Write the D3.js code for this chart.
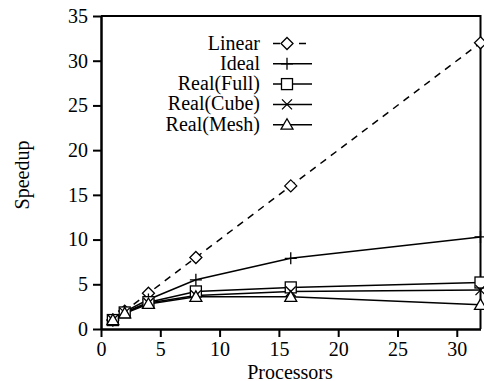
<!DOCTYPE html>
<html>
<head>
<meta charset="utf-8">
<script src="https://cdn.jsdelivr.net/npm/d3@7"></script>
<style>
  body { margin: 0; background: #fff; }
  text { font-family: "Liberation Serif", "Times New Roman", serif; fill: #000; }
</style>
</head>
<body>
<svg id="chart" width="484" height="381"></svg>
<script>
// Speedup measurements per processor count
const processors = [1, 2, 4, 8, 16, 32];
const linear    = [1, 2, 4, 8, 16, 32];
const ideal     = [1, 1.95, 3.3, 5.5, 7.9, 10.3];
const realFull  = [1, 1.85, 3.0, 4.2, 4.65, 5.2];
const realCube  = [1, 1.8, 2.9, 3.75, 4.2, 4.35];
const realMesh  = [1, 1.75, 2.8, 3.6, 3.6, 2.7];
const seriesNames = ["Linear", "Ideal", "Real(Full)", "Real(Cube)", "Real(Mesh)"];
const xTicks = [0, 5, 10, 15, 20, 25, 30];
const yTicks = [0, 5, 10, 15, 20, 25, 30, 35];

const series = [
  { name: seriesNames[0], values: linear,   symbol: "diamond",  dash: "7,6" },
  { name: seriesNames[1], values: ideal,    symbol: "plus",     dash: null },
  { name: seriesNames[2], values: realFull, symbol: "square",   dash: null },
  { name: seriesNames[3], values: realCube, symbol: "cross",    dash: null },
  { name: seriesNames[4], values: realMesh, symbol: "triangle", dash: null }
];

const svg = d3.select("#chart");
const plotLeft = 101, plotRight = 480.5, plotTop = 16, plotBottom = 329;
const fontSize = "20px";

const x = d3.scaleLinear().domain([0, 32]).range([plotLeft, plotRight]);
const y = d3.scaleLinear().domain([0, 35]).range([plotBottom, plotTop]);

// Frame (top and right)
svg.append("path")
  .attr("d", `M${plotLeft},${plotTop}H${plotRight}V${plotBottom}`)
  .attr("fill", "none").attr("stroke", "#000").attr("stroke-width", 2);

// Axes
const xAxis = svg.append("g").attr("transform", `translate(0,${plotBottom})`)
  .call(d3.axisBottom(x).tickValues(xTicks).tickSize(8).tickSizeOuter(0).tickPadding(5));
const yAxis = svg.append("g").attr("transform", `translate(${plotLeft},0)`)
  .call(d3.axisLeft(y).tickValues(yTicks).tickSize(8).tickSizeOuter(0).tickPadding(5));
[xAxis, yAxis].forEach(g => {
  g.select(".domain").attr("stroke", "#000").attr("stroke-width", 2.5);
  g.selectAll(".tick line").attr("stroke", "#000").attr("stroke-width", 2);
  g.selectAll(".tick text").style("font-size", fontSize).style("font-family", "Liberation Serif, serif");
});

// Axis titles
svg.append("text").attr("x", 290).attr("y", 378.5).attr("text-anchor", "middle")
  .style("font-size", fontSize).text("Processors");
svg.append("text").attr("transform", "translate(29,175) rotate(-90)")
  .attr("text-anchor", "middle").style("font-size", fontSize).text("Speedup");

// Marker drawing
function drawMarker(g, symbol, cx, cy) {
  const s = 6;
  const common = el => el.attr("fill", "#fff").attr("stroke", "#000").attr("stroke-width", 1.3);
  if (symbol === "diamond") {
    common(g.append("path").attr("d", `M${cx},${cy - s}L${cx + s},${cy}L${cx},${cy + s}L${cx - s},${cy}Z`));
  } else if (symbol === "square") {
    common(g.append("rect").attr("x", cx - 5.5).attr("y", cy - 5.5).attr("width", 11).attr("height", 11));
  } else if (symbol === "triangle") {
    common(g.append("path").attr("d", `M${cx},${cy - 6}L${cx + 6},${cy + 4.5}L${cx - 6},${cy + 4.5}Z`));
  } else if (symbol === "plus") {
    g.append("path").attr("d", `M${cx - 6},${cy}H${cx + 6}M${cx},${cy - 6}V${cy + 6}`)
      .attr("stroke", "#000").attr("stroke-width", 1.3).attr("fill", "none");
  } else if (symbol === "cross") {
    g.append("path").attr("d", `M${cx - 5},${cy - 5}L${cx + 5},${cy + 5}M${cx - 5},${cy + 5}L${cx + 5},${cy - 5}`)
      .attr("stroke", "#000").attr("stroke-width", 1.3).attr("fill", "none");
  }
}

const line = d3.line().x((d, i) => x(processors[i])).y(d => y(d));
const plot = svg.append("g");

series.forEach(s => {
  plot.append("path").datum(s.values).attr("d", line)
    .attr("fill", "none").attr("stroke", "#000").attr("stroke-width", 1.5)
    .attr("stroke-dasharray", s.dash);
});
series.forEach(s => {
  const g = plot.append("g");
  s.values.forEach((v, i) => drawMarker(g, s.symbol, x(processors[i]), y(v)));
});

// Legend
const legend = svg.append("g");
series.forEach((s, i) => {
  const ly = 43.5 + i * 20.3;
  legend.append("text").attr("x", 260).attr("y", ly).attr("dy", "0.3em")
    .attr("text-anchor", "end").style("font-size", fontSize).text(s.name);
  legend.append("line").attr("x1", 273).attr("x2", 312).attr("y1", ly).attr("y2", ly)
    .attr("stroke", "#000").attr("stroke-width", 1.5).attr("stroke-dasharray", s.dash);
  drawMarker(legend, s.symbol, 287, ly);
});
</script>
</body>
</html>
